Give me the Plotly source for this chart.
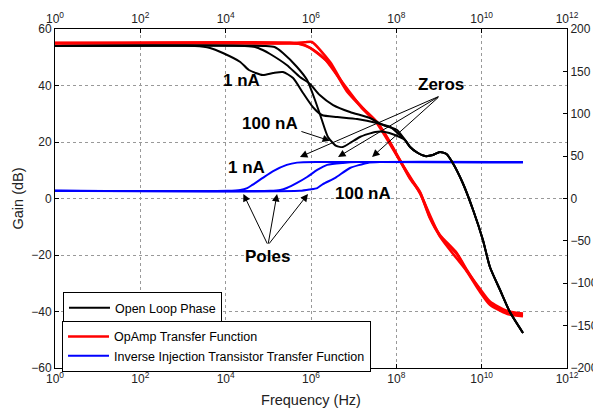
import math
import plotly.graph_objects as go

FONT = "Arial, Liberation Sans, sans-serif"

# ---------------- data ----------------
# OpAmp transfer function (gain, dB) - three nearly overlapping curves
red_a_freq = [1, 3.2e5, 7.2e5, 1.05e6, 2.8e6, 6.9e6, 1.65e7, 3.5e7, 6.0e7, 1.22e8, 2.1e8, 3.6e8,
              6.1e8, 1.05e9, 2.6e9, 4.5e9, 9.1e9, 1.56e10, 3.9e10, 9.3e10]
red_a_gain = [55.0, 55.0, 55.3, 55.4, 48.3, 38.4, 32.0, 27.1, 21.8, 13.6, 7.3, 2.3,
              -6.6, -12.9, -19.3, -25.3, -32.4, -37.0, -40.2, -41.2]
red_b_freq = [1, 3.2e5, 5.5e5, 9.5e5, 1.6e6, 2.8e6, 6.9e6, 1.65e7, 3.5e7, 6.0e7, 1.22e8, 2.1e8,
              3.6e8, 6.1e8, 1.05e9, 2.6e9, 4.5e9, 9.1e9, 1.56e10, 3.9e10, 9.3e10]
red_b_gain = [55.0, 55.0, 54.7, 53.3, 50.8, 47.6, 38.0, 31.8, 26.9, 21.6, 13.4, 7.0,
              2.0, -6.9, -13.2, -19.6, -25.6, -32.0, -36.5, -39.8, -40.7]
red_c_freq = [1, 4.2e5, 7.2e5, 1.24e6, 2.1e6, 4.4e6, 1.65e7, 3.5e7, 1.22e8, 3.6e8, 1.05e9,
              4.5e9, 9.1e9, 1.56e10, 3.9e10, 9.3e10]
red_c_gain = [55.0, 55.0, 54.3, 52.2, 49.4, 43.0, 31.6, 26.7, 13.3, 1.8, -13.4,
              -25.8, -33.0, -37.6, -40.8, -41.7]

# Open loop phase (deg) - three bias currents, shared high-frequency tail
ph_a_freq = [1, 1.9e3, 4.3e3, 8.6e3, 2.2e4, 3.5e4, 7.4e4, 1.3e5, 2.2e5, 3.8e5, 6.5e5, 1.1e6,
             1.8e6, 4.1e6, 1.2e7, 3.5e7, 7.1e7, 1.6e8]
ph_a_deg = [180, 180, 177.6, 171.7, 161.1, 151.6, 145.7, 148.1, 149.3, 142.2, 124.5, 108.0,
            98.5, 96.2, 93.8, 89.1, 84.4, 69.0]
ph_b_freq = [1, 2.8e4, 4.9e4, 7.4e4, 1.1e5, 2.7e5, 5.5e5, 9.5e5, 1.6e6, 3.3e6, 8.2e6, 2.4e7,
             4.9e7, 1.04e8, 1.6e8]
ph_b_deg = [180, 180, 178.8, 175.2, 170.5, 157.5, 143.4, 135.1, 122.1, 110.3, 102.1, 95.0,
            86.7, 80.8, 69.0]
ph_c_freq = [1, 8.3e4, 1.4e5, 2.2e5, 4.7e5, 8.1e5, 1.24e6, 1.8e6, 2.5e6, 3.9e6, 5.6e6, 8.2e6,
             1.4e7, 3.2e7, 5.4e7, 9.3e7, 1.6e8]
ph_c_deg = [180, 180, 178.8, 171.7, 155.2, 139.8, 116.2, 92.6, 72.6, 62.0, 60.8, 65.5,
            72.6, 78.5, 78.5, 74.9, 69.0]
ph_tail_freq = [2.1e8, 3.2e8, 4.7e8, 7.2e8, 1.05e9, 1.5e9, 2.1e9, 3.6e9, 6.3e9, 1.07e10,
                1.56e10, 2.7e10, 4.6e10, 9.3e10]
ph_tail_deg = [60.8, 53.7, 50.1, 51.3, 54.9, 52.5, 41.9, 18.3, -13.6, -49.0,
               -80.8, -108.0, -134.0, -158.7]

# Inverse injection transistor transfer function (gain, dB)
inj_a_freq = [1, 1.1e4, 2.2e4, 3.2e4, 4.2e4, 7.4e4, 1.3e5, 2.7e5, 4.7e5, 1.6e6, 9.3e10]
inj_a_gain = [2.7, 2.7, 3.0, 3.7, 4.8, 7.3, 9.7, 11.9, 12.7, 12.9, 12.9]
inj_b_freq = [1, 1.1e5, 1.9e5, 2.7e5, 4.7e5, 8.1e5, 1.4e6, 2.4e6, 5.6e6, 1.2e7, 9.3e10]
inj_b_gain = [2.7, 2.7, 3.0, 3.7, 5.5, 7.6, 10.1, 11.9, 12.6, 12.9, 12.7]
inj_c_freq = [1, 5.5e5, 9.5e5, 1.4e6, 1.9e6, 3.7e6, 8.2e6, 2.1e7, 4.1e7, 9.3e10]
inj_c_gain = [2.7, 2.7, 3.2, 3.7, 5.1, 7.3, 10.8, 12.6, 12.9, 12.9]

# axis ticks
freq_ticks = [1, 1e2, 1e4, 1e6, 1e8, 1e10, 1e12]
freq_tick_text = ["10<sup>0</sup>", "10<sup>2</sup>", "10<sup>4</sup>", "10<sup>6</sup>",
                  "10<sup>8</sup>", "10<sup>10</sup>", "10<sup>12</sup>"]

# annotation anchor points (frequency Hz, gain dB)
labels = [("1 nA", 2.3e4, 41.9), ("100 nA", 1.1e5, 26.4), ("Zeros", 1.1e9, 40.2),
          ("1 nA", 3.0e4, 10.8), ("100 nA", 1.66e7, 1.9), ("Poles", 9.8e4, -20.7)]
arrows = [  # (tail_f, tail_g, head_f, head_g)
    (1.05e9, 36.3, 5.5e5, 14.7), (1.05e9, 36.3, 4.3e6, 14.7), (1.05e9, 36.3, 2.7e7, 14.7),
    (5.5e5, 23.9, 2.8e6, 20.4),
    (9.8e4, -16.5, 2.6e4, 1.6), (9.8e4, -16.5, 1.6e5, 1.6), (9.8e4, -16.5, 8.5e5, 1.6),
]

# ---------------- figure ----------------
fig = go.Figure()
line_kw = dict(shape="spline", smoothing=0.6)

for i, (fx, gy) in enumerate([(red_a_freq, red_a_gain), (red_b_freq, red_b_gain),
                              (red_c_freq, red_c_gain)]):
    fig.add_trace(go.Scatter(x=fx, y=gy, mode="lines", name="OpAmp Transfer Function",
                             line=dict(color="#ff0000", width=2.6, **line_kw),
                             legend="legend2", showlegend=(i == 0)))
for i, (fx, gy) in enumerate([(inj_a_freq, inj_a_gain), (inj_b_freq, inj_b_gain),
                              (inj_c_freq, inj_c_gain)]):
    fig.add_trace(go.Scatter(x=fx, y=gy, mode="lines",
                             name="Inverse Injection Transistor Transfer Function",
                             line=dict(color="#0000ff", width=2, **line_kw),
                             legend="legend2", showlegend=(i == 0)))
for i, (fx, py) in enumerate([(ph_a_freq, ph_a_deg), (ph_b_freq, ph_b_deg),
                              (ph_c_freq, ph_c_deg)]):
    fig.add_trace(go.Scatter(x=fx + ph_tail_freq, y=py + ph_tail_deg, mode="lines",
                             name="Open Loop Phase", xaxis="x2", yaxis="y2",
                             line=dict(color="#000000", width=2, **line_kw),
                             legend="legend", showlegend=(i == 0)))

annotations = []
for text, f, g in labels:
    annotations.append(dict(x=math.log10(f), y=g, xref="x", yref="y", text=f"<b>{text}</b>",
                            showarrow=False, font=dict(size=17, family=FONT, color="#000")))
for tf, tg, hf, hg in arrows:
    annotations.append(dict(x=math.log10(hf), y=hg, ax=math.log10(tf), ay=tg,
                            xref="x", yref="y", axref="x", ayref="y", text="",
                            showarrow=True, arrowhead=2, arrowsize=1.5, arrowwidth=1,
                            arrowcolor="#000", standoff=0))

tick_font = dict(size=12, family=FONT, color="#222")
axis_common = dict(showline=True, linecolor="#000", linewidth=1, ticks="inside", ticklen=4,
                   tickcolor="#000", tickfont=tick_font, zeroline=False, automargin=False)

# page body has an 8px margin, so the figure itself is 8px smaller
fig.update_layout(
    width=593, height=408,
    margin=dict(l=47, r=34, t=21, b=48, autoexpand=False),
    paper_bgcolor="white", plot_bgcolor="white",
    font=dict(family=FONT, color="#000"),
    xaxis=dict(type="log", range=[0, 12], tickvals=freq_ticks, ticktext=freq_tick_text,
               showgrid=True, gridcolor="#999", griddash="dot", gridwidth=1,
               title=dict(text="Frequency (Hz)", font=dict(size=14.5, family=FONT, color="#222"),
                          standoff=9),
               **axis_common),
    xaxis2=dict(type="log", range=[0, 12], tickvals=freq_ticks, ticktext=freq_tick_text,
                overlaying="x", side="top", anchor="y2", showgrid=False, matches="x",
                **axis_common),
    yaxis=dict(range=[-60, 60], dtick=20, showgrid=True, gridcolor="#999", griddash="dot",
               gridwidth=1,
               title=dict(text="Gain (dB)", font=dict(size=14.5, family=FONT, color="#222"),
                          standoff=4),
               **axis_common),
    yaxis2=dict(range=[-200, 200], dtick=50, overlaying="y", side="right", anchor="x2",
                showgrid=False, **axis_common),
    legend=dict(x=0.0156, y=0.224, xanchor="left", yanchor="top", bgcolor="white",
                bordercolor="#000", borderwidth=1, itemwidth=41,
                font=dict(size=12.5, family=FONT, color="#000")),
    legend2=dict(x=0.0137, y=0.139, xanchor="left", yanchor="top", bgcolor="white",
                 bordercolor="#000", borderwidth=1, tracegroupgap=0, itemwidth=41,
                 font=dict(size=12.5, family=FONT, color="#000")),
    annotations=annotations,
    showlegend=True,
)

fig.write_html("out.html")
